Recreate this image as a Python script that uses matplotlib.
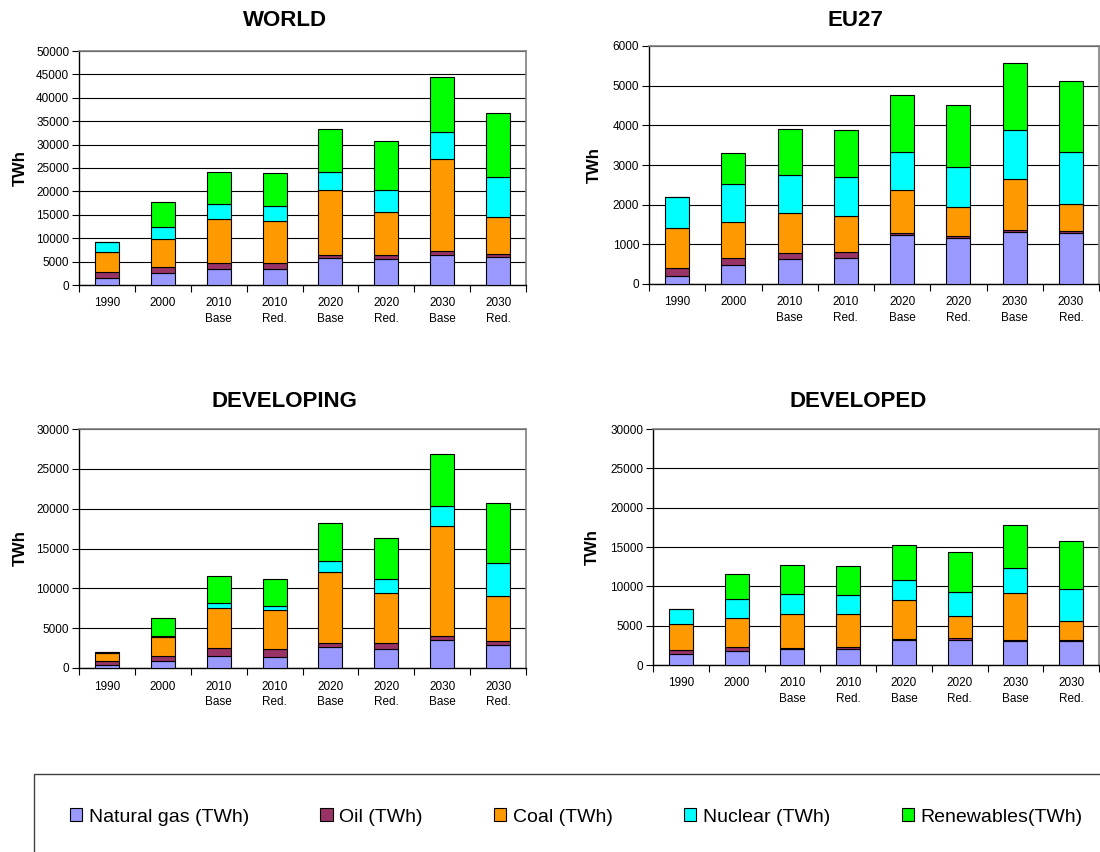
import matplotlib
matplotlib.use("Agg")
import matplotlib.pyplot as plt
from matplotlib.patches import Rectangle
import numpy as np

plt.rcParams['font.family'] = ['Liberation Sans', 'DejaVu Sans']

# Escenarios (eje x)
escenarios = ["1990", "2000", "2010\nBase", "2010\nRed.", "2020\nBase", "2020\nRed.", "2030\nBase", "2030\nRed."]

fuentes = ["Natural gas (TWh)", "Oil (TWh)", "Coal (TWh)", "Nuclear (TWh)", "Renewables(TWh)"]
colores = ["#9999FF", "#993366", "#FF9900", "#00FFFF", "#00FF00"]

# WORLD
world_gas = [1550, 2600, 3450, 3450, 5800, 5500, 6500, 5900]
world_oil = [1200, 1300, 1300, 1300, 600, 900, 700, 700]
world_coal = [4300, 5900, 9350, 8950, 13800, 9200, 19800, 8000]
world_nuclear = [2150, 2500, 3200, 3100, 3900, 4800, 5600, 8400]
world_renew = [0, 5500, 6900, 7200, 9300, 10300, 11900, 13700]

# EU27
eu_gas = [190, 485, 635, 660, 1235, 1160, 1305, 1280]
eu_oil = [220, 175, 135, 135, 50, 50, 50, 50]
eu_coal = [990, 910, 1020, 920, 1080, 720, 1300, 695]
eu_nuclear = [800, 945, 965, 990, 970, 1020, 1215, 1310]
eu_renew = [0, 795, 1165, 1170, 1430, 1570, 1695, 1775]

# DEVELOPING
dvg_gas = [400, 830, 1540, 1420, 2630, 2380, 3500, 2840]
dvg_oil = [450, 710, 960, 960, 500, 750, 460, 540]
dvg_coal = [1050, 2300, 5090, 4920, 8880, 6260, 13810, 5670]
dvg_nuclear = [100, 210, 630, 540, 1380, 1790, 2590, 4170]
dvg_renew = [0, 2210, 3380, 3380, 4840, 5090, 6460, 7510]

# DEVELOPED
dvd_gas = [1340, 1750, 2000, 2000, 3170, 3130, 3050, 3050]
dvd_oil = [580, 540, 210, 290, 130, 250, 160, 160]
dvd_coal = [3250, 3720, 4300, 4220, 4920, 2790, 5930, 2340]
dvd_nuclear = [1960, 2330, 2500, 2420, 2540, 3130, 3130, 4130]
dvd_renew = [0, 3260, 3670, 3710, 4470, 5090, 5500, 6130]

fig = plt.figure(figsize=(11, 8.52), dpi=100)
W, H = 1100, 852


def caja(x0, y0, x1, y1):
    # pixeles (origen arriba a la izquierda) -> fracciones de figura
    return [x0 / W, 1 - y1 / H, (x1 - x0) / W, (y1 - y0) / H]


def grafico(pos, titulo, titulo_xy, series, ymax, paso):
    ax = fig.add_axes(caja(*pos))
    x = np.arange(len(escenarios))
    base = np.zeros(len(escenarios))
    barras = []
    for valores, color in zip(series, colores):
        b = ax.bar(x, valores, 0.43, bottom=base, color=color,
                   edgecolor='black', linewidth=0.8, zorder=3)
        barras.append(b)
        base = base + np.array(valores)

    ax.set_xlim(-0.5, len(escenarios) - 0.5)
    ax.set_ylim(0, ymax)
    ax.set_yticks(np.arange(0, ymax + 1, paso))
    ax.set_xticks(x)
    ax.set_xticklabels(escenarios, fontsize=8.5, linespacing=1.35)
    ax.set_xticks(np.arange(-0.5, len(escenarios)), minor=True)
    ax.tick_params(axis='x', which='major', length=0, pad=9)
    ax.tick_params(axis='x', which='minor', length=5, width=0.8, direction='out')
    ax.tick_params(axis='y', length=5, width=0.8, labelsize=8.5, pad=2)

    ax.yaxis.grid(True, color='black', linewidth=0.8)
    ax.set_axisbelow(True)
    for lado in ['top', 'right']:
        ax.spines[lado].set_color('#808080')
        ax.spines[lado].set_linewidth(1.2)
    for lado in ['left', 'bottom']:
        ax.spines[lado].set_color('black')
        ax.spines[lado].set_linewidth(1.0)

    ax.set_ylabel('TWh', fontsize=12, fontweight='bold')
    ax.yaxis.set_label_coords(titulo_xy[2], 0.5)
    fig.text(titulo_xy[0] / W, 1 - titulo_xy[1] / H, titulo,
             fontsize=16, fontweight='bold', ha='center', va='center')
    return barras


barras = grafico((79, 51, 526, 285), 'WORLD', (285, 20, -0.114),
                 [world_gas, world_oil, world_coal, world_nuclear, world_renew], 50000, 5000)
grafico((649, 46, 1099, 284), 'EU27', (855, 20, -0.105),
        [eu_gas, eu_oil, eu_coal, eu_nuclear, eu_renew], 6000, 1000)
grafico((79, 429, 526, 668), 'DEVELOPING', (284, 401, -0.114),
        [dvg_gas, dvg_oil, dvg_coal, dvg_nuclear, dvg_renew], 30000, 5000)
grafico((653, 429, 1099, 665), 'DEVELOPED', (858, 401, -0.118),
        [dvd_gas, dvd_oil, dvd_coal, dvd_nuclear, dvd_renew], 30000, 5000)

# Recuadro de la leyenda
fig.patches.append(Rectangle((34 / W, -0.05), 1.0, 1 - 774 / H + 0.05,
                             transform=fig.transFigure, fill=False,
                             edgecolor='#404040', linewidth=1.0))

fig.legend(barras, fuentes, loc='center left', bbox_to_anchor=(70 / W, 1 - 817 / H),
           ncol=5, frameon=False, fontsize=14, borderpad=0, borderaxespad=0,
           handlelength=0.62, handleheight=0.65, handletextpad=0.35,
           columnspacing=3.67)

fig.savefig('out.png', dpi=100)
